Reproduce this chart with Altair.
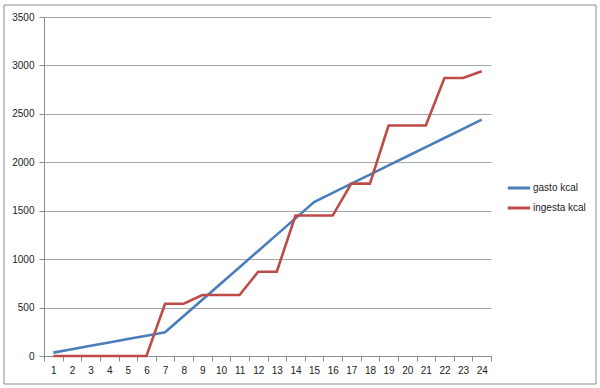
import altair as alt
import pandas as pd

hours = list(range(1, 25))
gasto = [35, 70, 105, 140, 175, 210, 245, 413, 581, 749, 917, 1085, 1253, 1421,
         1590, 1684, 1779, 1873, 1968, 2062, 2156, 2251, 2345, 2440]
ingesta = [0, 0, 0, 0, 0, 0, 540, 540, 630, 630, 630, 870, 870, 1450,
           1450, 1450, 1780, 1780, 2380, 2380, 2380, 2870, 2870, 2940]
series = ["gasto kcal", "ingesta kcal"]
colors = ["#4a7ebb", "#be4b48"]

rows = []
for h, g, i in zip(hours, gasto, ingesta):
    rows.append({"h": h, "s": series[0], "v": g})
    rows.append({"h": h, "s": series[1], "v": i})
df = pd.DataFrame(rows)

font = "Liberation Sans"

frame = alt.Chart(pd.DataFrame({"a": [0]})).mark_rect(
    fill=None, stroke="#8c8c8c", strokeWidth=1
).encode(x=alt.value(-40), x2=alt.value(552), y=alt.value(-12), y2=alt.value(367))

lines = alt.Chart(df).mark_line(strokeWidth=2.6).encode(
    x=alt.X("h:O", sort=hours,
            scale=alt.Scale(type="band", paddingInner=0, paddingOuter=0),
            axis=alt.Axis(title=None, labelAngle=0, tickBand="extent", grid=False,
                          domainColor="#8c8c8c", tickColor="#8c8c8c", tickSize=5,
                          labelFont=font, labelFontSize=10, labelColor="#222",
                          labelPadding=4)),
    y=alt.Y("v:Q", scale=alt.Scale(domain=[0, 3500], nice=False),
            axis=alt.Axis(title=None, values=list(range(0, 3501, 500)), format="d",
                          gridColor="#a6a6a6", gridWidth=1, domainColor="#8c8c8c",
                          tickColor="#8c8c8c", tickSize=5, labelFont=font,
                          labelFontSize=10, labelColor="#222", labelPadding=5)),
    color=alt.Color("s:N", scale=alt.Scale(domain=series, range=colors),
                    legend=alt.Legend(title=None, orient="none", legendX=462, legendY=158,
                                      symbolType="stroke", symbolSize=500,
                                      symbolStrokeWidth=3, labelFont=font,
                                      labelFontSize=10, labelColor="#222",
                                      rowPadding=1, labelOffset=1)),
)

chart = alt.layer(frame, lines).properties(
    width=447, height=339,
    autosize=alt.AutoSizeParams(type="none"),
    padding={"left": 44, "top": 17, "right": 109, "bottom": 32},
    background="white",
).configure_view(stroke=None)

chart.save("out.html", embed_options={"renderer": "svg", "actions": False})
